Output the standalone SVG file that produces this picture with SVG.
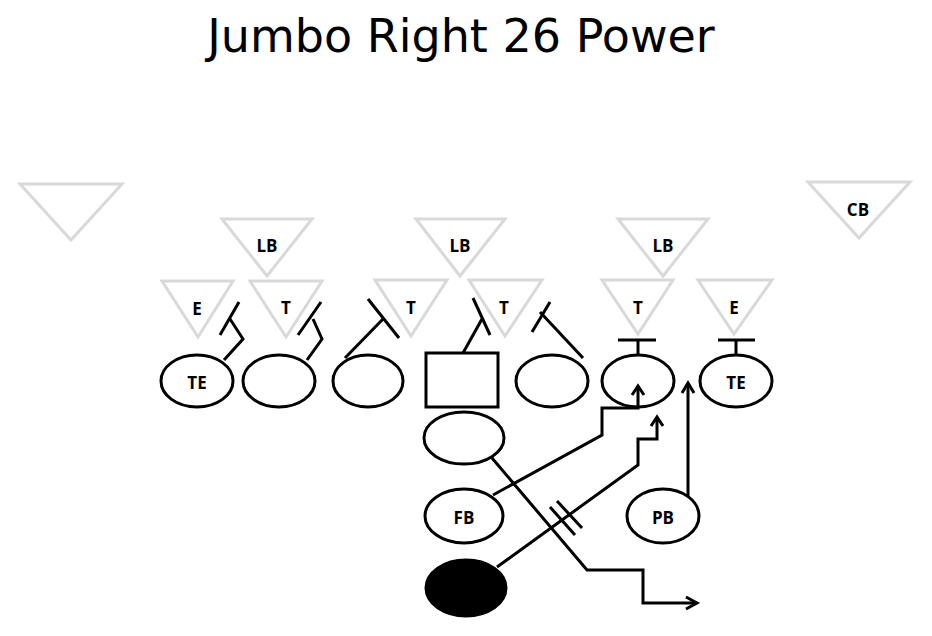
<svg xmlns="http://www.w3.org/2000/svg" width="932" height="636" viewBox="0 0 932 636">
<style>
.def{fill:none;stroke:#d9d9d9;stroke-width:3;stroke-linejoin:miter}
.pl{fill:#fff;stroke:#000;stroke-width:3}
.ln{fill:none;stroke:#000;stroke-width:3;stroke-linecap:butt;stroke-linejoin:miter}
.lb{font-family:"Open Sans","DejaVu Sans",sans-serif;font-weight:bold;font-size:17px;fill:#000;text-anchor:middle;dominant-baseline:central}
.title{font-family:"DejaVu Sans",sans-serif;font-size:46px;fill:#000;text-anchor:middle}
</style>
<rect width="932" height="636" fill="#fff"/>
<text class="title" x="461" y="52">Jumbo Right 26 Power</text>

<g id="defense">
<g id="d-left"><polygon class="def" points="20,184 122,184 71,240"/></g>
<g id="lb1"><polygon class="def" points="222,219 312,219 267,276"/><text class="lb" x="267" y="245">LB</text></g>
<g id="lb2"><polygon class="def" points="416,219 505,219 460,276"/><text class="lb" x="460" y="245">LB</text></g>
<g id="lb3"><polygon class="def" points="618,219 708,219 663,276"/><text class="lb" x="663" y="245">LB</text></g>
<g id="cb"><polygon class="def" points="808,182 910,182 859,238"/><text class="lb" x="858" y="209">CB</text></g>
<g id="e1"><polygon class="def" points="162,281 233,281 198,337"/><text class="lb" x="197" y="308">E</text></g>
<g id="t1"><polygon class="def" points="250,281 322,281 286,337"/><text class="lb" x="286" y="307">T</text></g>
<g id="t2"><polygon class="def" points="375,280 447,280 411,336"/><text class="lb" x="411" y="307">T</text></g>
<g id="t3"><polygon class="def" points="469,280 542,280 505,336"/><text class="lb" x="504" y="307">T</text></g>
<g id="t4"><polygon class="def" points="602,280 673,280 638,334"/><text class="lb" x="638" y="307">T</text></g>
<g id="e2"><polygon class="def" points="698,280 772,280 734,334"/><text class="lb" x="734" y="307">E</text></g>
</g>

<g id="offense">
<g id="te1"><ellipse class="pl" cx="197" cy="381" rx="36" ry="26"/><text class="lb" x="197" y="382">TE</text></g>
<g id="lt"><ellipse class="pl" cx="279" cy="381" rx="36" ry="26"/></g>
<g id="lg"><ellipse class="pl" cx="368" cy="381" rx="35" ry="26"/></g>
<g id="c"><rect class="pl" x="426" y="353" width="72" height="54"/></g>
<g id="rg"><ellipse class="pl" cx="552" cy="381" rx="36" ry="26"/></g>
<g id="rt"><ellipse class="pl" cx="638" cy="381" rx="36" ry="26"/></g>
<g id="te2"><ellipse class="pl" cx="736" cy="381" rx="36" ry="26"/><text class="lb" x="736" y="382">TE</text></g>
<g id="qb"><ellipse class="pl" cx="464" cy="438" rx="40" ry="26"/></g>
<g id="fb"><ellipse class="pl" cx="464" cy="516" rx="39" ry="27"/><text class="lb" x="464" y="517">FB</text></g>
<g id="pb"><ellipse class="pl" cx="663" cy="516" rx="36" ry="27"/><text class="lb" x="663" y="517">PB</text></g>
<g id="rb"><ellipse cx="466" cy="588" rx="40" ry="28" fill="#000" stroke="#000" stroke-width="3"/></g>
</g>

<g id="connectors">
<polyline class="ln" points="224,360 243,339 230,319"/>
<line class="ln" x1="220" y1="335" x2="239" y2="302"/>
<polyline class="ln" points="307,360 322,339 313,319"/>
<line class="ln" x1="298" y1="335" x2="321" y2="302"/>
<line class="ln" x1="345" y1="358" x2="383" y2="319"/>
<line class="ln" x1="368" y1="299" x2="399" y2="338"/>
<line class="ln" x1="463" y1="353" x2="482" y2="319"/>
<line class="ln" x1="473" y1="298" x2="490" y2="335"/>
<line class="ln" x1="583" y1="358" x2="540" y2="312"/>
<line class="ln" x1="532" y1="332" x2="550" y2="302"/>
<line class="ln" x1="638" y1="355" x2="638" y2="340"/>
<line class="ln" x1="618" y1="340" x2="656" y2="340"/>
<line class="ln" x1="736" y1="355" x2="736" y2="340"/>
<line class="ln" x1="718" y1="340" x2="755" y2="340"/>
<polyline class="ln" points="493,495 602,435 602,408 638,408 638,387"/>
<polyline class="ln" points="632,395 638,386 644,395"/>
<polyline class="ln" points="497,567 638,465 638,439 657,439 657,417"/>
<polyline class="ln" points="651,426 657,417 663,426"/>
<line class="ln" x1="550" y1="507" x2="575" y2="535"/>
<line class="ln" x1="557" y1="501" x2="582" y2="528"/>
<polyline class="ln" points="492,458 587,570 643,570 643,603 697,603"/>
<polyline class="ln" points="686,597 697,603 686,609"/>
<line class="ln" x1="688" y1="497" x2="688" y2="384"/>
<polyline class="ln" points="682,393 688,383 694,393"/>
</g>
</svg>
